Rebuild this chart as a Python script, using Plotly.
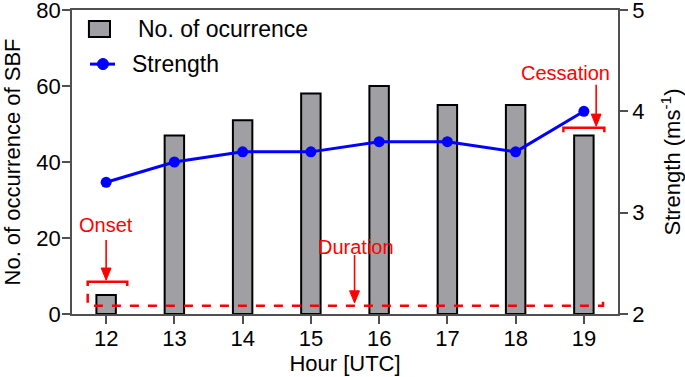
import plotly.graph_objects as go

hours = [12, 13, 14, 15, 16, 17, 18, 19]
occurrence = [5, 47, 51, 58, 60, 55, 55, 47]
strength = [3.3, 3.5, 3.6, 3.6, 3.7, 3.7, 3.6, 4.0]
legend_names = ["No. of ocurrence", "Strength"]

FONT = "Arial, Liberation Sans, sans-serif"
RED = "#ff0000"
BLUE = "#0000ff"
GRAY = "#a0a0a4"
AXIS = "#505050"

fig = go.Figure()
fig.add_trace(go.Bar(
    x=hours, y=occurrence, name=legend_names[0], width=0.285,
    marker=dict(color=GRAY, line=dict(color="black", width=2)),
    yaxis="y", showlegend=False,
))
fig.add_trace(go.Scatter(
    x=hours, y=strength, name=legend_names[1], mode="lines+markers",
    line=dict(color=BLUE, width=3), marker=dict(color=BLUE, size=11),
    yaxis="y2", showlegend=False,
))

# ---- legend drawn as shapes + text (paper coordinates) ----
fig.add_shape(type="rect", xref="paper", yref="paper",
              x0=0.031, x1=0.0696, y0=0.911, y1=0.964,
              fillcolor=GRAY, line=dict(color="black", width=2))
fig.add_annotation(xref="paper", yref="paper", x=0.117, y=0.936, xanchor="left",
                   yanchor="middle", text=legend_names[0], showarrow=False,
                   font=dict(family=FONT, size=23, color="black"))
fig.add_shape(type="line", xref="paper", yref="paper",
              x0=0.033, x1=0.0788, y0=0.822, y1=0.822,
              line=dict(color=BLUE, width=3))
fig.add_shape(type="circle", xref="paper", yref="paper",
              x0=0.0467, x1=0.0668, y0=0.804, y1=0.8405,
              fillcolor=BLUE, line=dict(color=BLUE, width=1))
fig.add_annotation(xref="paper", yref="paper", x=0.106, y=0.822, xanchor="left",
                   yanchor="middle", text=legend_names[1], showarrow=False,
                   font=dict(family=FONT, size=23, color="black"))

# ---- Duration dashed bracket ----
fig.add_shape(type="path", xref="x", yref="y",
              path="M 11.73 5.3 L 11.73 2.2 L 19.28 2.2 L 19.28 5.3",
              line=dict(color=RED, width=2.5, dash="dash"))
# Onset bracket
fig.add_shape(type="path", xref="x", yref="y",
              path="M 11.73 7.4 L 11.73 8.5 L 12.31 8.5 L 12.31 7.4",
              line=dict(color=RED, width=2.5))
# Cessation bracket
fig.add_shape(type="path", xref="x", yref="y",
              path="M 18.70 47.8 L 18.70 49.0 L 19.30 49.0 L 19.30 47.8",
              line=dict(color=RED, width=2.5))

labels = [("Onset", 12.0, 23.4), ("Duration", 15.66, 17.6), ("Cessation", 18.73, 63.4)]
for t, x, y in labels:
    fig.add_annotation(x=x, y=y, xref="x", yref="y", text=t, showarrow=False,
                       font=dict(family=FONT, size=20, color=RED))

# arrows: (x, tail y, tip y)
arrows = [(12.0, 19.5, 8.9), (15.64, 15.5, 2.9), (19.18, 60.3, 49.4)]
HEAD_LEN = 3.2   # y units (~12 px)
HALF_W = 0.072   # x units (~5 px)
for x, y0, y1 in arrows:
    base = y1 + HEAD_LEN
    fig.add_shape(type="line", xref="x", yref="y", x0=x, x1=x, y0=y0, y1=base,
                  line=dict(color=RED, width=1.6))
    fig.add_shape(type="path", xref="x", yref="y",
                  path=f"M {x - HALF_W} {base} L {x + HALF_W} {base} L {x} {y1} Z",
                  fillcolor=RED, line=dict(color=RED, width=1))

fig.update_layout(
    width=685, height=377,
    margin=dict(l=72, r=67, t=10, b=63),
    paper_bgcolor="white", plot_bgcolor="white",
    font=dict(family=FONT, size=22, color="black"),
    showlegend=False,
    xaxis=dict(range=[11.5, 19.5], tickvals=hours, ticks="outside", ticklen=8,
               tickwidth=1.5, tickcolor=AXIS, showline=True, linecolor=AXIS,
               linewidth=1.5, mirror=True, showgrid=False, zeroline=False,
               automargin=False, tickfont=dict(size=22), ticklabeloverflow="allow",
               ticklabelstandoff=-4,
               title=dict(text="Hour [UTC]", standoff=0, font=dict(size=22))),
    yaxis=dict(range=[0, 80], dtick=20, ticks="outside", ticklen=8, tickwidth=1.5,
               tickcolor=AXIS, showline=True, linecolor=AXIS, linewidth=1.5,
               showgrid=False, zeroline=False, automargin=False,
               tickfont=dict(size=22), ticklabeloverflow="allow",
               ticklabelstandoff=-3,
               title=dict(text="No. of occurrence of SBF", standoff=18,
                          font=dict(size=22))),
    yaxis2=dict(range=[2, 5], dtick=1, ticks="outside", ticklen=8, tickwidth=1.5,
                tickcolor=AXIS, overlaying="y", side="right", showline=True,
                linecolor=AXIS, linewidth=1.5, showgrid=False, zeroline=False,
                automargin=False, tickfont=dict(size=22), ticklabeloverflow="allow",
                title=dict(text="Strength (ms<sup>-1</sup>)", standoff=22,
                           font=dict(size=22))),
)

fig.write_html("out.html", config={"displayModeBar": False},
               post_script="document.body.style.margin='0px';")
